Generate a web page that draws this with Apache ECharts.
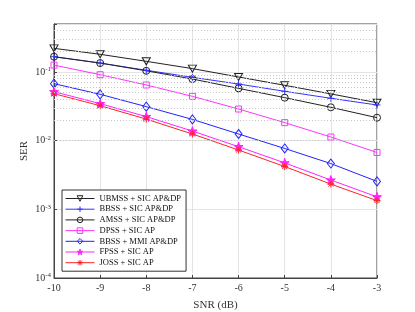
<!DOCTYPE html>
<html><head><meta charset="utf-8">
<script src="https://cdn.jsdelivr.net/npm/echarts@6/dist/echarts.min.js"></script>
<style>html,body{margin:0;padding:0;background:#fff}#c{width:415px;height:312px}</style>
</head><body><div id="c"></div>
<script>
const snr = [-10, -9, -8, -7, -6, -5, -4, -3];
const ubmss = [0.221, 0.181, 0.143, 0.112, 0.0846, 0.064, 0.048, 0.0357];
const bbssSic = [0.167, 0.135, 0.106, 0.0836, 0.0668, 0.0523, 0.0414, 0.0331];
const amss = [0.167, 0.135, 0.104, 0.079, 0.0578, 0.0423, 0.0306, 0.0216];
const dpss = [0.126, 0.0914, 0.0647, 0.0442, 0.0289, 0.0183, 0.0113, 0.00673];
const bbssMmi = [0.0676, 0.0473, 0.0313, 0.0204, 0.0125, 0.0077, 0.00464, 0.00255];
const fpss = [0.0517, 0.0346, 0.0224, 0.0138, 0.00817, 0.00475, 0.00267, 0.00152];
const joss = [0.0483, 0.0323, 0.0206, 0.0125, 0.0073, 0.0042, 0.00233, 0.00134];
const names = ['UBMSS + SIC AP&DP','BBSS + SIC AP&DP','AMSS + SIC AP&DP','DPSS + SIC AP','BBSS + MMI AP&DP','FPSS + SIC AP','JOSS + SIC AP'];
const yDecades = [-4, -3, -2, -1];

const minorVals = [];
yDecades.forEach(d => { for (let k = 2; k <= 9; k++) { const v = k * Math.pow(10, d); if (v < 0.5) minorVals.push(v); } });

const FONT = '"Liberation Serif", "DejaVu Serif", serif';
const plusPath = 'path://M5,0L5,10M0,5L10,5';
const starPath = 'path://M5,0L6.2,3.6L10,3.6L6.9,5.9L8.1,9.5L5,7.3L1.9,9.5L3.1,5.9L0,3.6L3.8,3.6Z';
const astPath = 'path://M5,0L5,10M0,5L10,5M1.5,1.5L8.5,8.5M8.5,1.5L1.5,8.5';
const triDown = 'path://M0,0L10,0L5,9Z';
const CLEAR = 'rgba(255,255,255,0)';

const styles = [
  { c: '#222', sym: triDown, size: [8, 7], fill: CLEAR },
  { c: '#3333ff', sym: plusPath, size: 7, fill: CLEAR },
  { c: '#222', sym: 'circle', size: 7, fill: CLEAR },
  { c: '#ff33ff', sym: 'rect', size: 6, fill: CLEAR },
  { c: '#2222ff', sym: 'diamond', size: [7, 9], fill: CLEAR },
  { c: '#ff22ff', sym: starPath, size: 9, fill: '#ff22ff' },
  { c: '#ff2222', sym: astPath, size: 7, fill: '#ff2222' }
];
const vals = [ubmss, bbssSic, amss, dpss, bbssMmi, fpss, joss];

const series = vals.map((d, i) => ({
  name: names[i], type: 'line', data: snr.map((x, j) => [x, d[j]]),
  symbol: styles[i].sym, symbolSize: styles[i].size, showAllSymbol: true,
  lineStyle: { color: styles[i].c, width: 1 },
  itemStyle: { color: styles[i].fill, borderColor: styles[i].c, borderWidth: 1 },
  emphasis: { disabled: true }, animation: false, z: 3
}));
series[0].markLine = {
  silent: true, symbol: 'none', label: { show: false }, animation: false,
  lineStyle: { color: '#c8c8c8', type: [1, 2], width: 1 },
  data: minorVals.map(v => ({ yAxis: v }))
};

const chart = echarts.init(document.getElementById('c'), null, { renderer: 'canvas' });
chart.setOption({
  backgroundColor: '#fff',
  animation: false,
  grid: { left: 54, right: 38, top: 24, bottom: 34, containLabel: false, outerBoundsMode: 'none',
    show: true, borderColor: '#444', borderWidth: 1, backgroundColor: 'transparent' },
  xAxis: {
    type: 'value', min: -10, max: -3, interval: 1,
    name: 'SNR (dB)', nameLocation: 'middle', nameGap: 22, nameMoveOverlap: false,
    nameTextStyle: { fontFamily: FONT, fontSize: 11, color: '#333' },
    axisLine: { lineStyle: { color: '#444' } },
    axisTick: { inside: true, length: 3, lineStyle: { color: '#444' } },
    axisLabel: { fontFamily: FONT, fontSize: 10, color: '#333', margin: 5 },
    splitLine: { show: true, lineStyle: { color: '#e4e4e4', width: 1 } }
  },
  yAxis: {
    type: 'log', logBase: 10, min: 1e-4, max: 0.5,
    name: 'SER', nameLocation: 'middle', nameGap: 24, nameRotate: 90, nameMoveOverlap: false,
    nameTextStyle: { fontFamily: FONT, fontSize: 11, color: '#333' },
    axisLine: { lineStyle: { color: '#444' } },
    axisTick: { inside: true, length: 3, lineStyle: { color: '#444' } },
    axisLabel: {
      fontFamily: FONT, fontSize: 10, color: '#333', margin: 3,
      formatter: v => {
        const l = Math.log10(v);
        if (Math.abs(l - Math.round(l)) > 0.01) return '';
        return '{b|10}{s|' + Math.round(l) + '}';
      },
      rich: {
        b: { fontFamily: FONT, fontSize: 10, color: '#333' },
        s: { fontFamily: FONT, fontSize: 7, color: '#333', padding: [0, 0, 5, 0] }
      }
    },
    splitLine: { show: true, lineStyle: { color: '#e4e4e4', width: 1 } }
  },
  legend: {
    orient: 'vertical', left: 62, top: 190,
    data: names.map((n, i) => ({
      name: n,
      itemStyle: { color: styles[i].fill, borderColor: styles[i].c, borderWidth: 1 },
      lineStyle: { color: styles[i].c, width: 1 }
    })),
    itemWidth: 29, itemHeight: 7, itemGap: 1.7,
    padding: [4, 5, 4, 3],
    backgroundColor: '#fff', borderColor: '#333', borderWidth: 1,
    textStyle: { fontFamily: FONT, fontSize: 8.5, lineHeight: 9, color: '#111' },
    selectedMode: false
  },
  series
});
</script></body></html>
